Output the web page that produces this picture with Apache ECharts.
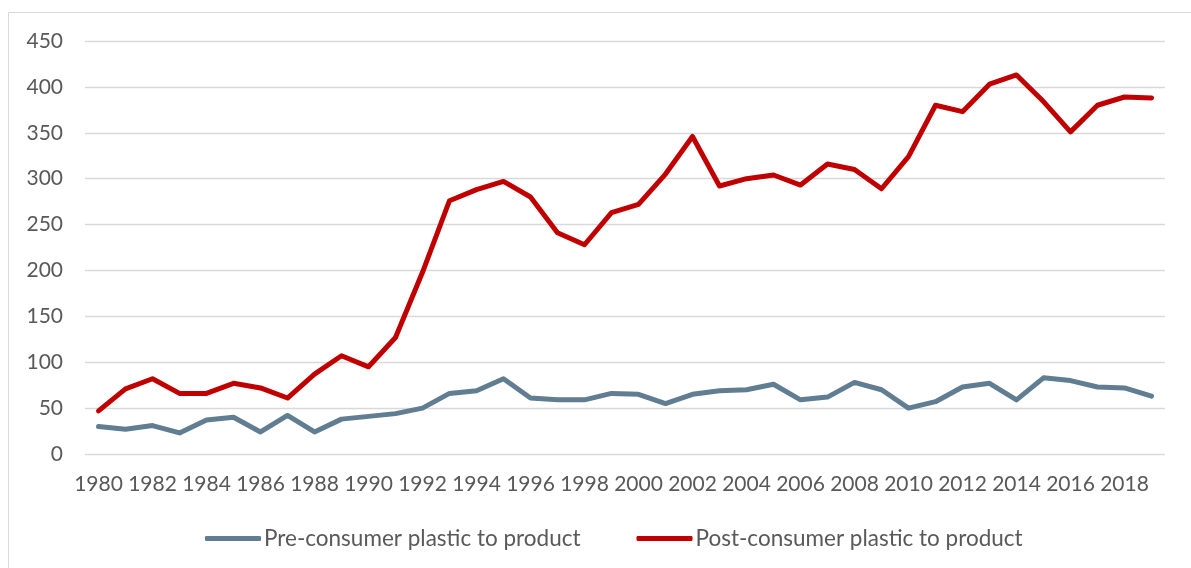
<!DOCTYPE html>
<html>
<head>
<meta charset="utf-8">
<style>
  html, body { margin: 0; padding: 0; background: #ffffff; }
  #chart { width: 1191px; height: 568px; }
</style>
<script src="https://cdn.jsdelivr.net/npm/echarts@6/dist/echarts.min.js"></script>
</head>
<body>
<div id="chart"></div>
<script>
// Years on the category axis
const years = [];
for (let y = 1980; y <= 2019; y++) years.push(String(y));

// Series values
const preConsumer = [30, 27, 31, 23, 37, 40, 24, 42, 24, 38,
                     41, 44, 50, 66, 69, 82, 61, 59, 59, 66,
                     65, 55, 65, 69, 70, 76, 59, 62, 78, 70,
                     50, 57, 73, 77, 59, 83, 80, 73, 72, 63];
const postConsumer = [47, 71, 82, 66, 66, 77, 72, 61, 87, 107,
                      95, 127, 198, 276, 288, 297, 280, 241, 228, 263,
                      272, 305, 346, 292, 300, 304, 293, 316, 310, 289,
                      324, 380, 373, 403, 413, 384, 351, 380, 389, 388];

const seriesNames = ['Pre-consumer plastic to product', 'Post-consumer plastic to product'];
const textColor = '#595959';
const fontFamily = 'Lato, "Open Sans", sans-serif';

const chart = echarts.init(document.getElementById('chart'), null, { renderer: 'canvas' });

chart.setOption({
  animation: false,
  backgroundColor: '#ffffff',
  textStyle: { fontFamily: fontFamily },
  graphic: [{
    type: 'rect',
    shape: { x: 8.5, y: 12.5, width: 1400, height: 800 },
    style: { fill: 'none', stroke: '#D9D9D9', lineWidth: 1 },
    silent: true
  }],
  grid: { left: 85, right: 26, top: 41, bottom: 114, containLabel: false },
  legend: {
    left: 200,
    top: 522,
    itemWidth: 56,
    itemHeight: 5,
    itemGap: 56,
    icon: 'roundRect',
    textStyle: { color: textColor, fontSize: 22.5, fontFamily: fontFamily, padding: [0, 0, 0, -2] },
    data: seriesNames
  },
  xAxis: {
    type: 'category',
    data: years,
    boundaryGap: true,
    axisLine: { show: false },
    axisTick: { show: false },
    axisLabel: { interval: 1, color: textColor, fontSize: 21, fontFamily: fontFamily, margin: 20 }
  },
  yAxis: {
    type: 'value',
    min: 0,
    max: 450,
    interval: 50,
    axisLine: { show: false },
    axisTick: { show: false },
    axisLabel: { color: textColor, fontSize: 21, fontFamily: fontFamily, margin: 22 },
    splitLine: { lineStyle: { color: '#D9D9D9', width: 1.3 } }
  },
  series: [
    {
      name: seriesNames[0],
      type: 'line',
      data: preConsumer,
      symbol: 'none',
      color: '#607D92',
      lineStyle: { width: 5, color: '#607D92', join: 'round', cap: 'round' }
    },
    {
      name: seriesNames[1],
      type: 'line',
      data: postConsumer,
      symbol: 'none',
      color: '#C00000',
      lineStyle: { width: 5, color: '#C00000', join: 'round', cap: 'round' }
    }
  ]
});
</script>
</body>
</html>
